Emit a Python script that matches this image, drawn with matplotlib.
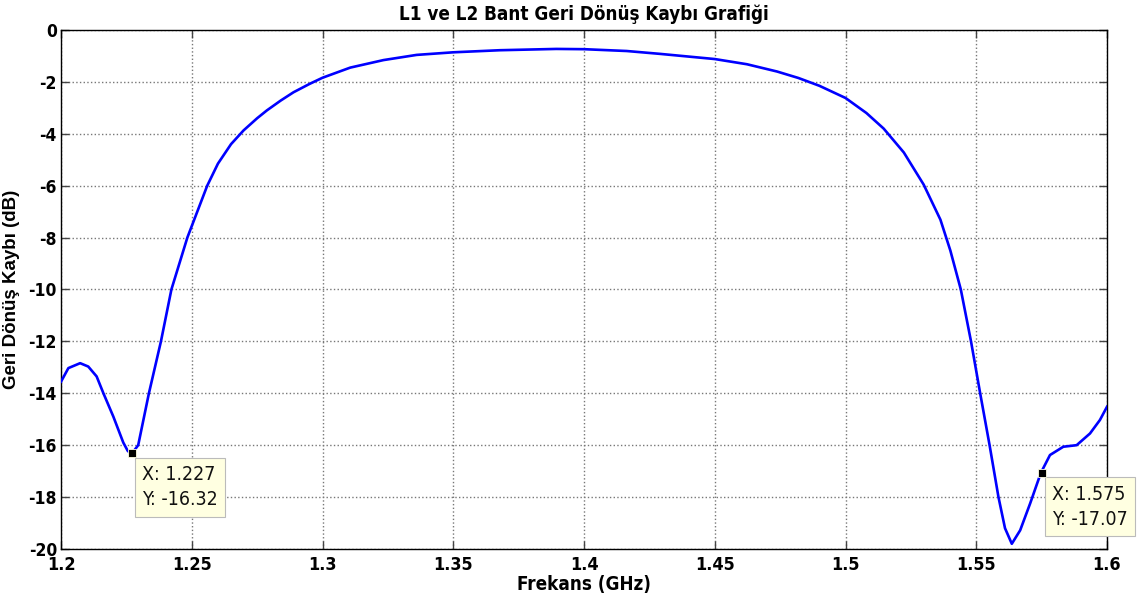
import matplotlib
matplotlib.use("Agg")
import matplotlib.pyplot as plt

# okunan değerler (GHz, dB)
freq = [1.2000, 1.2028, 1.2073, 1.2104, 1.2136, 1.2162, 1.2200, 1.2238, 1.2255,
        1.2267, 1.2280, 1.2295, 1.2336, 1.2382, 1.2422, 1.2483, 1.2559, 1.2600,
        1.2650, 1.2698, 1.2750, 1.2787, 1.2840, 1.2889, 1.2950, 1.3000, 1.3106,
        1.3233, 1.3360, 1.3500, 1.3678, 1.3894, 1.4000, 1.4163, 1.4290, 1.4500,
        1.4623, 1.4738, 1.4820, 1.4900, 1.5000, 1.5080, 1.5146, 1.5223, 1.5299,
        1.5363, 1.5401, 1.5441, 1.5480, 1.5515, 1.5551, 1.5585, 1.5610, 1.5636,
        1.5668, 1.5706, 1.5747, 1.5782, 1.5833, 1.5884, 1.5935, 1.5973, 1.6000]
s11 = [-13.55, -13.03, -12.84, -12.97, -13.35, -14.00, -14.90, -15.90, -16.22,
       -16.32, -16.20, -16.00, -14.00, -12.00, -10.00, -8.00, -6.00, -5.15,
       -4.40, -3.87, -3.40, -3.10, -2.72, -2.40, -2.08, -1.84, -1.45,
       -1.16, -0.96, -0.86, -0.78, -0.73, -0.74, -0.81, -0.92, -1.12,
       -1.32, -1.60, -1.85, -2.15, -2.62, -3.20, -3.80, -4.72, -5.96,
       -7.31, -8.50, -10.00, -12.00, -14.00, -16.00, -18.00, -19.20, -19.80,
       -19.28, -18.25, -17.07, -16.38, -16.06, -16.00, -15.55, -15.03, -14.52]

# data cursor noktaları
cursor_x = [1.227, 1.575]
cursor_y = [-16.32, -17.07]

xticks = [1.2, 1.25, 1.3, 1.35, 1.4, 1.45, 1.5, 1.55, 1.6]
xtick_labels = ["1.2", "1.25", "1.3", "1.35", "1.4", "1.45", "1.5", "1.55", "1.6"]
yticks = [0, -2, -4, -6, -8, -10, -12, -14, -16, -18, -20]

COND = dict(family="DejaVu Sans", stretch="condensed")
REG = ["Liberation Sans", "DejaVu Sans"]

fig = plt.figure(figsize=(11.37, 6.07), dpi=100)
ax = fig.add_axes([0.0537, 0.0956, 0.9199, 0.855])

ax.plot(freq, s11, color="#0000FF", lw=1.9, zorder=3, solid_joinstyle="round")
ax.set_xlim(1.2, 1.6)
ax.set_ylim(-20, 0)

ax.set_xticks(xticks)
ax.set_xticklabels(xtick_labels, weight="bold", fontsize=13, **COND)
ax.set_yticks(yticks)
ax.set_yticklabels([str(v) for v in yticks], weight="bold", fontsize=12.5, **COND)
ax.tick_params(direction="in", length=6, width=1, color="#444444",
               top=True, right=True)
ax.tick_params(axis="x", pad=5)
ax.tick_params(axis="y", pad=3)
ax.grid(True, linestyle=":", color="#777777", linewidth=1.0)
for sp in ax.spines.values():
    sp.set_linewidth(1.0)
    sp.set_color("black")

ax.set_title("L1 ve L2 Bant Geri Dönüş Kaybı Grafiği",
             weight="bold", fontsize=13.5, pad=7, **COND)
ax.set_xlabel("Frekans (GHz)", weight="bold", fontsize=13.5, labelpad=1, **COND)
ax.set_ylabel("Geri Dönüş Kaybı (dB)", family=REG, weight="bold", fontsize=13.5, labelpad=6)

# data tip kutuları
for cx, cy in zip(cursor_x, cursor_y):
    ax.annotate(f"X: {cx}\nY: {cy}", xy=(cx, cy), xytext=(7.5, -8.5),
                textcoords="offset points", ha="left", va="top",
                fontsize=14, linespacing=1.4, color="#111111",
                bbox=dict(boxstyle="square,pad=0.38", fc="#FFFFE1", ec="#BBBBBB", lw=0.8),
                zorder=6, annotation_clip=False, **COND)
    ax.plot([cx], [cy], marker="s", ms=5.5, mfc="black", mec="#FFFFE1", mew=0.6,
            ls="none", zorder=7)

fig.savefig("out.png", dpi=100)
